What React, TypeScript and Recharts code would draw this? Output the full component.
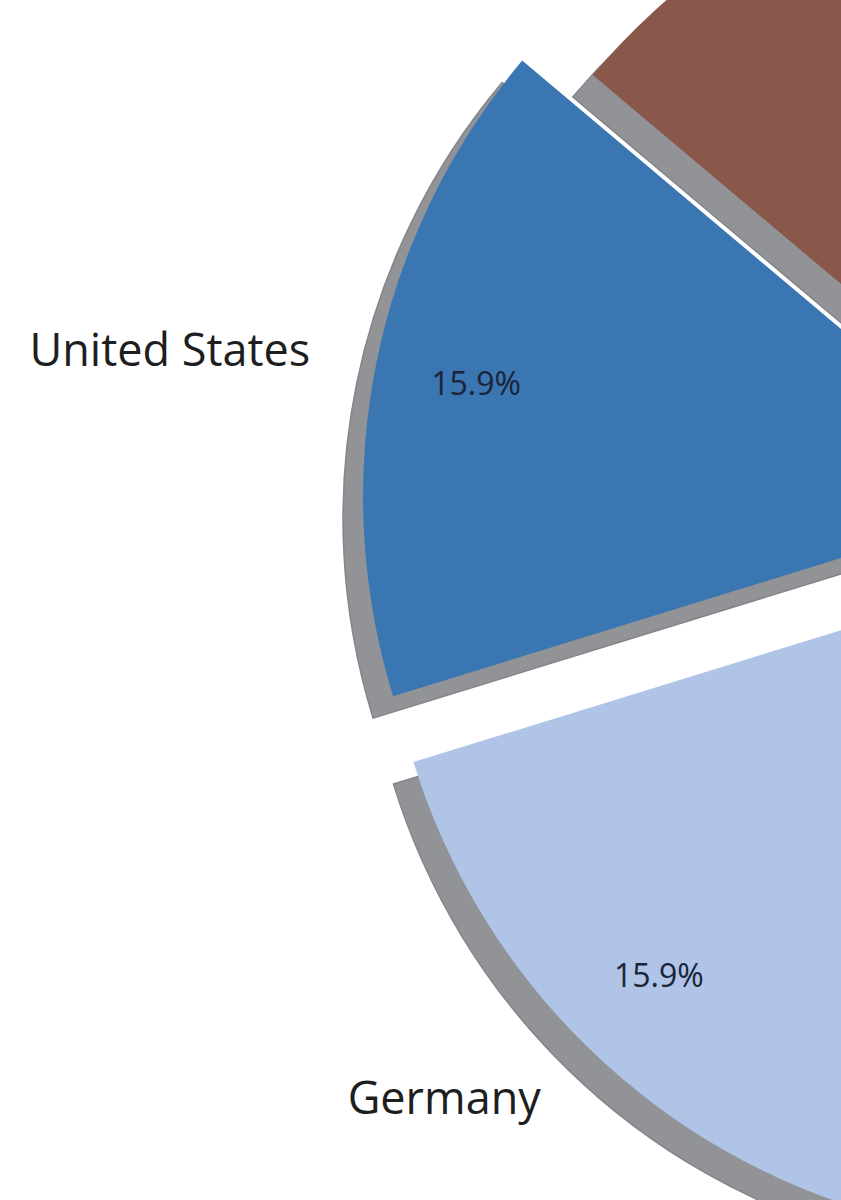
import { PieChart, Pie, Cell } from 'recharts'

// visible slices: United States, Germany, and the brown one at the top;
// the rest of the pie lies outside the crop, so those shares are estimates
const countries = ['United States', 'Germany', 'China', 'Japan', 'United Kingdom', 'France', 'India', 'Italy', 'Canada', 'South Korea', 'Brazil']
const shares    = [15.9, 15.9, 11.2, 8.6, 7.4, 6.6, 5.9, 5.0, 4.1, 2.9, 16.5]
const colors    = ['#3a76b1', '#afc4e6', '#ff7f0e', '#ffbb78', '#2ca02c', '#98df8a', '#d62728', '#ff9896', '#9467bd', '#c5b0d5', '#8a584b']
const explode   = [72, 72, 0, 0, 0, 0, 0, 0, 0, 0, 0]

const W = 841, H = 1200
const CX = 1110.6, CY = 511, R = 677
const START = 139.9
const SHADOW_DX = -20, SHADOW_DY = 22
const RAD = Math.PI / 180

const data = countries.map((name, i) => ({ name, value: shares[i] }))

const total = shares.reduce((a, b) => a + b, 0)
let acc = 0
const mids = shares.map(v => {
  const m = START + 360 * (acc + v / 2) / total
  acc += v
  return m
})

// one group for the slices left in place, one per exploded slice
const groups: number[][] = [shares.map((_, i) => i).filter(i => !explode[i])]
explode.forEach((e, i) => { if (e) groups.push([i]) })

const centerOf = (g: number[]) => {
  const i = g[0], e = explode[i]
  return { x: CX + e * Math.cos(mids[i] * RAD), y: CY - e * Math.sin(mids[i] * RAD) }
}

const inFrame = (x: number, y: number) => x > 0 && x < W && y > 0 && y < H

const makeLabel = (g: number[]) => (p: any) => {
  if (!g.includes(p.index)) return null
  const a = p.midAngle * RAD
  const lx = p.cx + p.outerRadius * 1.1 * Math.cos(a)
  const ly = p.cy - p.outerRadius * 1.1 * Math.sin(a)
  const px = p.cx + p.outerRadius * 0.85 * Math.cos(a)
  const py = p.cy - p.outerRadius * 0.85 * Math.sin(a)
  // slices whose labels fall outside the crop show no text
  if (!inFrame(lx - 150, ly) || !inFrame(px + 50, py)) return null
  return (
    <g>
      <text x={lx} y={ly} textAnchor={lx < p.cx ? 'end' : 'start'} dominantBaseline="central"
            fontFamily="'Open Sans', sans-serif" fontSize={45} fill="#1e1e1e">{p.name}</text>
      <text x={px} y={py} textAnchor="middle" dominantBaseline="central"
            fontFamily="'Open Sans', sans-serif" fontSize={32} fill="#1b2438">
        {`${(p.percent * 100).toFixed(1)}%`}
      </text>
    </g>
  )
}

export default function App() {
  return (
    <div style={{position:'absolute', left:0, top:0, background:'#fff'}}>
      <PieChart width={W} height={H} margin={{top:0, right:0, bottom:0, left:0}}>
        {groups.map((g, k) => {
          const c = centerOf(g)
          return (
            <Pie key={'s' + k} data={data} dataKey="value" nameKey="name"
                 cx={c.x + SHADOW_DX} cy={c.y + SHADOW_DY} outerRadius={R}
                 startAngle={START} endAngle={START + 360}
                 isAnimationActive={false} labelLine={false}>
              {data.map((_, i) => (
                <Cell key={i}
                      fill={g.includes(i) ? '#929397' : 'none'}
                      stroke={g.includes(i) ? '#84858a' : 'none'} strokeWidth={1.5} />
              ))}
            </Pie>
          )
        })}
        {groups.map((g, k) => {
          const c = centerOf(g)
          return (
            <Pie key={'p' + k} data={data} dataKey="value" nameKey="name"
                 cx={c.x} cy={c.y} outerRadius={R}
                 startAngle={START} endAngle={START + 360}
                 isAnimationActive={false} labelLine={false} label={makeLabel(g)}>
              {data.map((_, i) => (
                <Cell key={i} fill={g.includes(i) ? colors[i] : 'none'} stroke="none" />
              ))}
            </Pie>
          )
        })}
      </PieChart>
    </div>
  )
}
